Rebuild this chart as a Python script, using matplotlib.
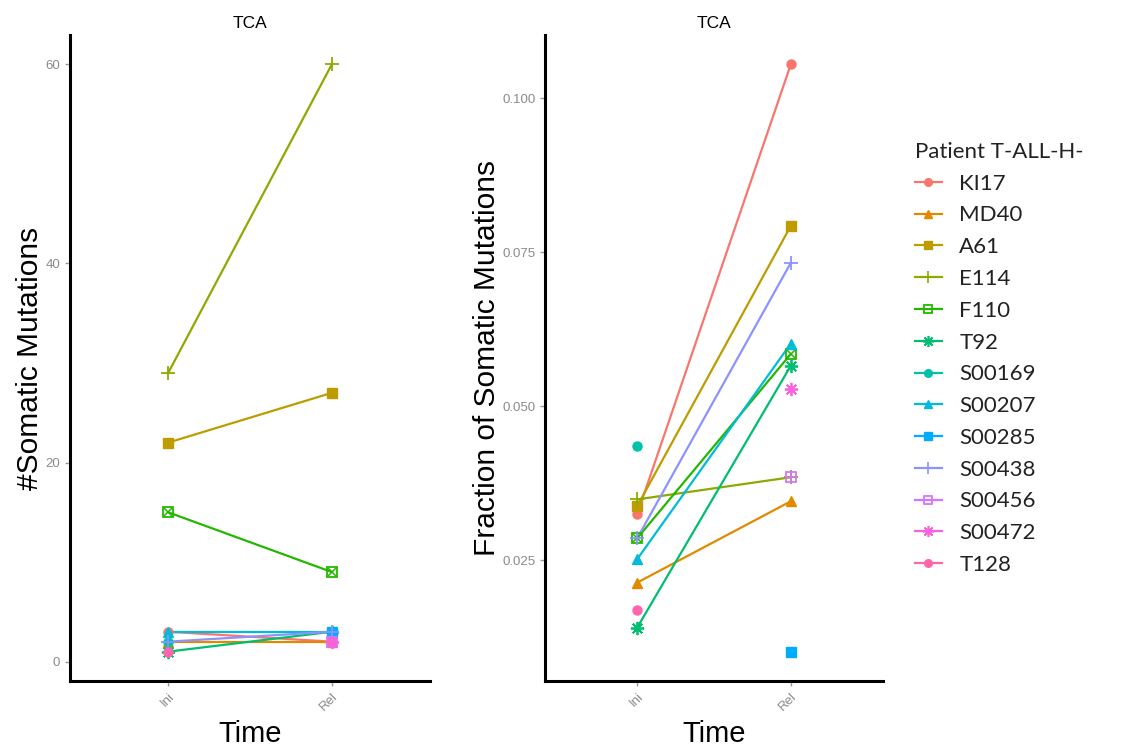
import numpy as np
import matplotlib
matplotlib.use("Agg")
import matplotlib.pyplot as plt
from matplotlib.lines import Line2D

nan = np.nan
patients = ["KI17", "MD40", "A61", "E114", "F110", "T92", "S00169",
            "S00207", "S00285", "S00438", "S00456", "S00472", "T128"]
colors = ["#F8766D", "#E18A00", "#BE9C00", "#8CAB00", "#24B700", "#00BE70",
          "#00C1AB", "#00BBDA", "#00ACFC", "#8B93FF", "#D575FE", "#F962DD", "#FF65AC"]
time_labels = ["Ini", "Rel"]

count_ini = [3, 2, 22, 29, 15, 1, 2, 3, nan, 2, nan, nan, 1]
count_rel = [2, 2, 27, 60, 9, 3, nan, 3, 3, 3, 2, 2, nan]
frac_ini = [0.0325, 0.0214, 0.0338, 0.0349, 0.0286, 0.0141, 0.0436,
            0.0252, nan, 0.0286, nan, nan, 0.0170]
frac_rel = [0.1055, 0.0346, 0.0793, 0.0385, 0.0585, 0.0566, nan,
            0.0602, 0.0102, 0.0733, 0.0385, 0.0528, nan]

markers = ["o", "^", "s", "+", "sx", (8, 2, 0), "o", "^", "s", "+", "s+", (8, 2, 0), "o"]

plt.rcParams["font.family"] = ["Liberation Sans", "DejaVu Sans"]

fig = plt.figure(figsize=(11.39, 7.49), dpi=100)
ax1 = fig.add_axes([70 / 1139, 1 - 681 / 749, 360 / 1139, 646 / 749])
ax2 = fig.add_axes([545 / 1139, 1 - 681 / 749, 338 / 1139, 646 / 749])

x = np.array([1, 2])


def draw_marker(ax, xs, ys, m, c, ms=6.5):
    if m in ("sx", "s+"):
        ax.plot(xs, ys, ls="none", marker="s", ms=ms, mfc="none", mec=c, mew=1.3, zorder=4)
        ax.plot(xs, ys, ls="none", marker=m[1], ms=ms * 0.8, mec=c, mew=1.1, zorder=4)
    elif m == "+" or isinstance(m, tuple):
        ax.plot(xs, ys, ls="none", marker=m, ms=ms + 3, mec=c, mew=1.3, zorder=4)
    else:
        ax.plot(xs, ys, ls="none", marker=m, ms=ms, mfc=c, mec=c, zorder=4)


def panel(ax, ini, rel, ylabel, yticks, yticklabels):
    for i, p in enumerate(patients):
        ys = np.array([ini[i], rel[i]], dtype=float)
        ok = ~np.isnan(ys)
        if ok.all():
            ax.plot(x, ys, color=colors[i], lw=1.6, zorder=3)
        draw_marker(ax, x[ok], ys[ok], markers[i], colors[i])
    allv = np.array([v for v in ini + rel if not np.isnan(v)])
    lo, hi = allv.min(), allv.max()
    pad = 0.05 * (hi - lo)
    ax.set_ylim(lo - pad, hi + pad)
    ax.set_xlim(0.4, 2.6)
    ax.set_xticks(x)
    ax.set_xticklabels(time_labels, rotation=45, ha="right", rotation_mode="anchor",
                       fontsize=9.5)
    ax.set_yticks(yticks)
    ax.set_yticklabels(yticklabels, fontsize=9.5)
    ax.tick_params(axis="both", colors="#9a9a9a", length=3.5, width=1.0)
    for t in ax.get_xticklabels() + ax.get_yticklabels():
        t.set_color("#8a8a8a")
    for s in ["top", "right"]:
        ax.spines[s].set_visible(False)
    for s in ["left", "bottom"]:
        ax.spines[s].set_linewidth(2.2)
        ax.spines[s].set_color("black")
    ax.set_xlabel("Time", fontsize=21, labelpad=5)
    ax.set_ylabel(ylabel, fontsize=21.5, labelpad=1)
    ax.set_title("TCA", fontsize=12.5, pad=5)


panel(ax1, count_ini, count_rel, "#Somatic Mutations", [0, 20, 40, 60], ["0", "20", "40", "60"])
panel(ax2, frac_ini, frac_rel, "Fraction of Somatic Mutations",
      [0.025, 0.05, 0.075, 0.1], ["0.025", "0.050", "0.075", "0.100"])

handles = []
for i, p in enumerate(patients):
    m = markers[i]
    if m in ("sx", "s+"):
        h = Line2D([], [], color=colors[i], lw=1.6, marker="s", ms=6, mfc="none", mec=colors[i], mew=1.3)
    elif m == "+" or isinstance(m, tuple):
        h = Line2D([], [], color=colors[i], lw=1.6, marker=m, ms=8, mew=1.2)
    else:
        h = Line2D([], [], color=colors[i], lw=1.6, marker=m, ms=5.5)
    handles.append(h)

leg = fig.legend(handles, patients, loc="upper left", bbox_to_anchor=(906 / 1139, 1 - 133 / 749),
                 frameon=False, title="Patient T-ALL-H-", handlelength=1.2,
                 handletextpad=0.8, labelspacing=0.53, borderaxespad=0,
                 prop={"family": ["Lato", "DejaVu Sans"], "size": 16},
                 title_fontproperties={"family": ["Lato", "DejaVu Sans"], "size": 16})
leg._legend_box.align = "left"
for t in leg.get_texts():
    t.set_color("#222222")
leg.get_title().set_color("#222222")

fig.savefig("out.png", dpi=100)
